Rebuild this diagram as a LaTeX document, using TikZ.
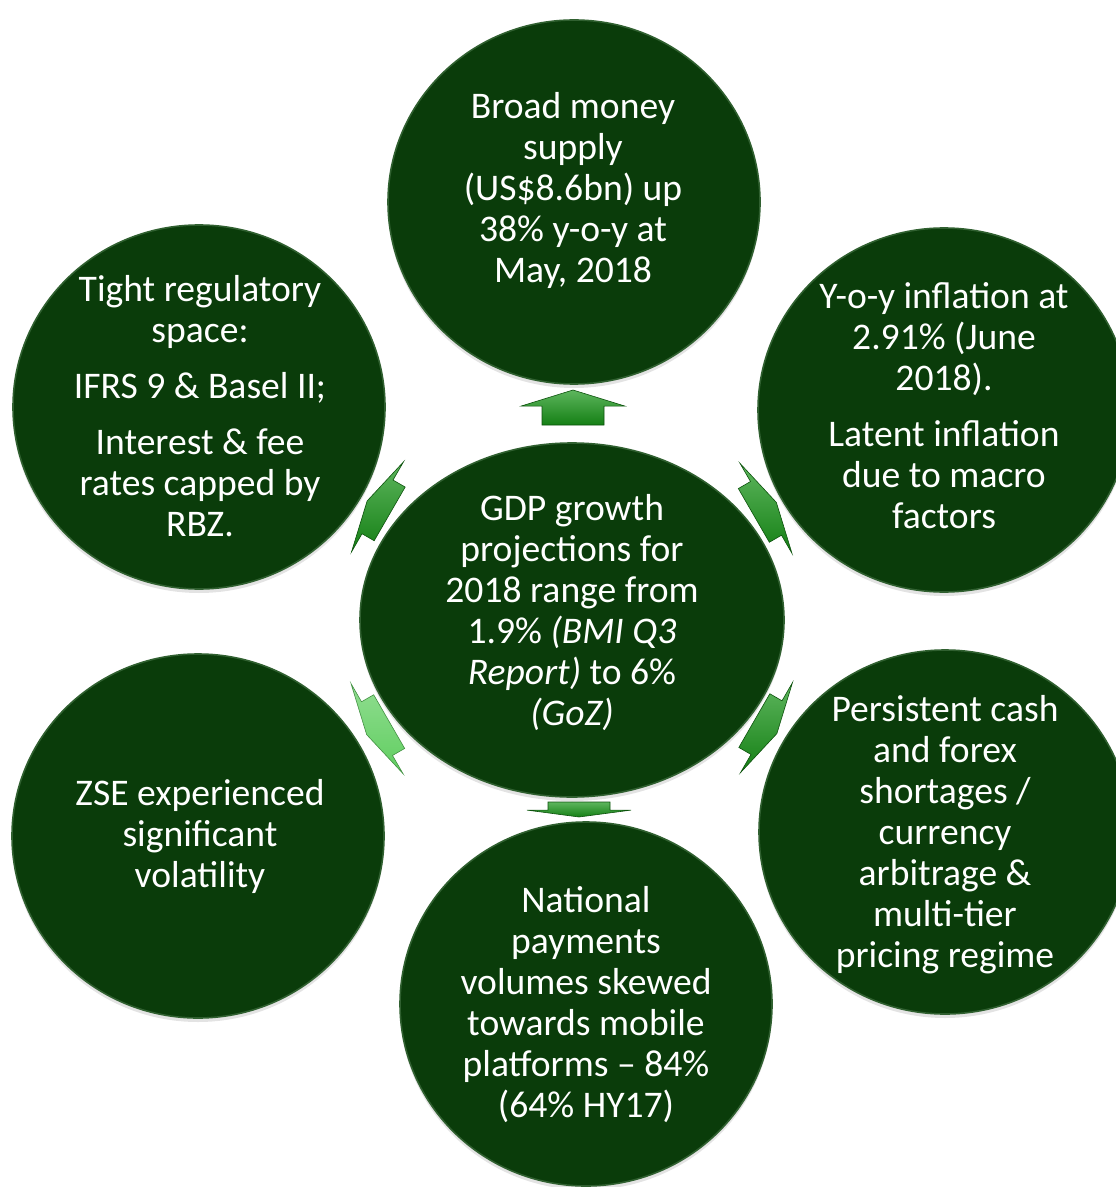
\documentclass[tikz,border=0pt]{standalone}
\usepackage{fontspec}
\setmainfont{Carlito}
\usetikzlibrary{shapes.geometric,calc,shadows}
\definecolor{bubblegreen}{RGB}{10,60,10}
\definecolor{bubblerim}{RGB}{48,96,48}
\definecolor{arrowgreen}{RGB}{24,150,24}
\definecolor{arrowlight}{RGB}{96,206,96}

\tikzset{
  bubble/.style={ellipse, fill=bubblegreen, draw=bubblerim, line width=0.8pt,
    minimum width=186pt, minimum height=182pt, inner sep=0pt,
    drop shadow={shadow xshift=0pt, shadow yshift=-2pt, opacity=0.22}},
  bubbletext/.style={text=white, align=center, inner sep=0pt,
    font=\fontsize{18.8}{20.5}\selectfont},
  arrowbody/.style={top color=arrowgreen!70!white, bottom color=arrowgreen!85!black,
    draw=arrowgreen!55!black, line width=0.3pt},
  % block arrow pointing up, #1 = length along the arrow
  flowarrow/.pic={
    \path[arrowbody] (-31,{-#1/2}) -- (-31,{0.04*#1}) -- (-52,{0.04*#1})
      -- (0,{#1/2}) -- (52,{0.04*#1}) -- (31,{0.04*#1}) -- (31,{-#1/2}) -- cycle;
  }
}

\begin{document}
\begin{tikzpicture}[x=0.5pt,y=0.5pt]
\useasboundingbox (0,0) rectangle (1115,-1187);

% the six bubbles
\node[bubble] (top) at (574,-202) {};
\node[bubble] (tl) at (199,-407) {};
\node[bubble] (tr) at (944,-410) {};
\node[bubble] (bl) at (198,-836) {};
\node[bubble] (br) at (945,-832) {};
\node[bubble] (bot) at (586,-1004) {};
\node[bubble, minimum width=212pt, minimum height=177pt] (gdp) at (572,-620) {};

% texts
\node[bubbletext] (top-t) at (573,-190) {Broad money\\supply\\(US\$8.6bn) up\\38\% y-o-y at\\May, 2018};
\node[bubbletext] (tl-t) at (200,-406) {Tight regulatory\\space:\\[7.5pt]IFRS 9 \& Basel II;\\[7.5pt]Interest \& fee\\rates capped by\\RBZ.};
\node[bubbletext] (tr-t) at (944,-406) {Y-o-y inflation at\\2.91\% (June\\2018).\\[7.5pt]Latent inflation\\due to macro\\factors};
\node[bubbletext] (gdp-t) at (572,-613) {GDP growth\\projections for\\2018 range from\\1.9\% \textit{(BMI Q3}\\\textit{Report)} to 6\%\\\textit{(GoZ)}};
\node[bubbletext] (br-t) at (945,-835) {Persistent cash\\and forex\\shortages /\\currency\\arbitrage \&\\multi-tier\\pricing regime};
\node[bubbletext] (bl-t) at (200,-836) {ZSE experienced\\significant\\volatility};
\node[bubbletext] (bot-t) at (586,-1005) {National\\payments\\volumes skewed\\towards mobile\\platforms -- 84\%\\(64\% HY17)};

% arrows in the gaps
\pic at ($(gdp.north)!0.5!(top.south)+(0,6)$) {flowarrow=35};
\pic[rotate=180] at ($(gdp.south)!0.5!(bot.north)$) {flowarrow=15};
\pic[rotate=60] at ($(gdp.150)!0.5!(tl.-30)+(0,2)$) {flowarrow=26};
\pic[rotate=-60] at ($(gdp.30)!0.5!(tr.-150)+(0,2)$) {flowarrow=26};
\pic[rotate=120, arrowbody/.style={top color=arrowlight!70!white, bottom color=arrowlight,
  draw=arrowlight!70!black, line width=0.3pt}] at ($(gdp.210)!0.5!(bl.30)+(0,4)$) {flowarrow=26};
\pic[rotate=-120] at ($(gdp.-30)!0.5!(br.150)+(0,3)$) {flowarrow=26};
\end{tikzpicture}
\end{document}
